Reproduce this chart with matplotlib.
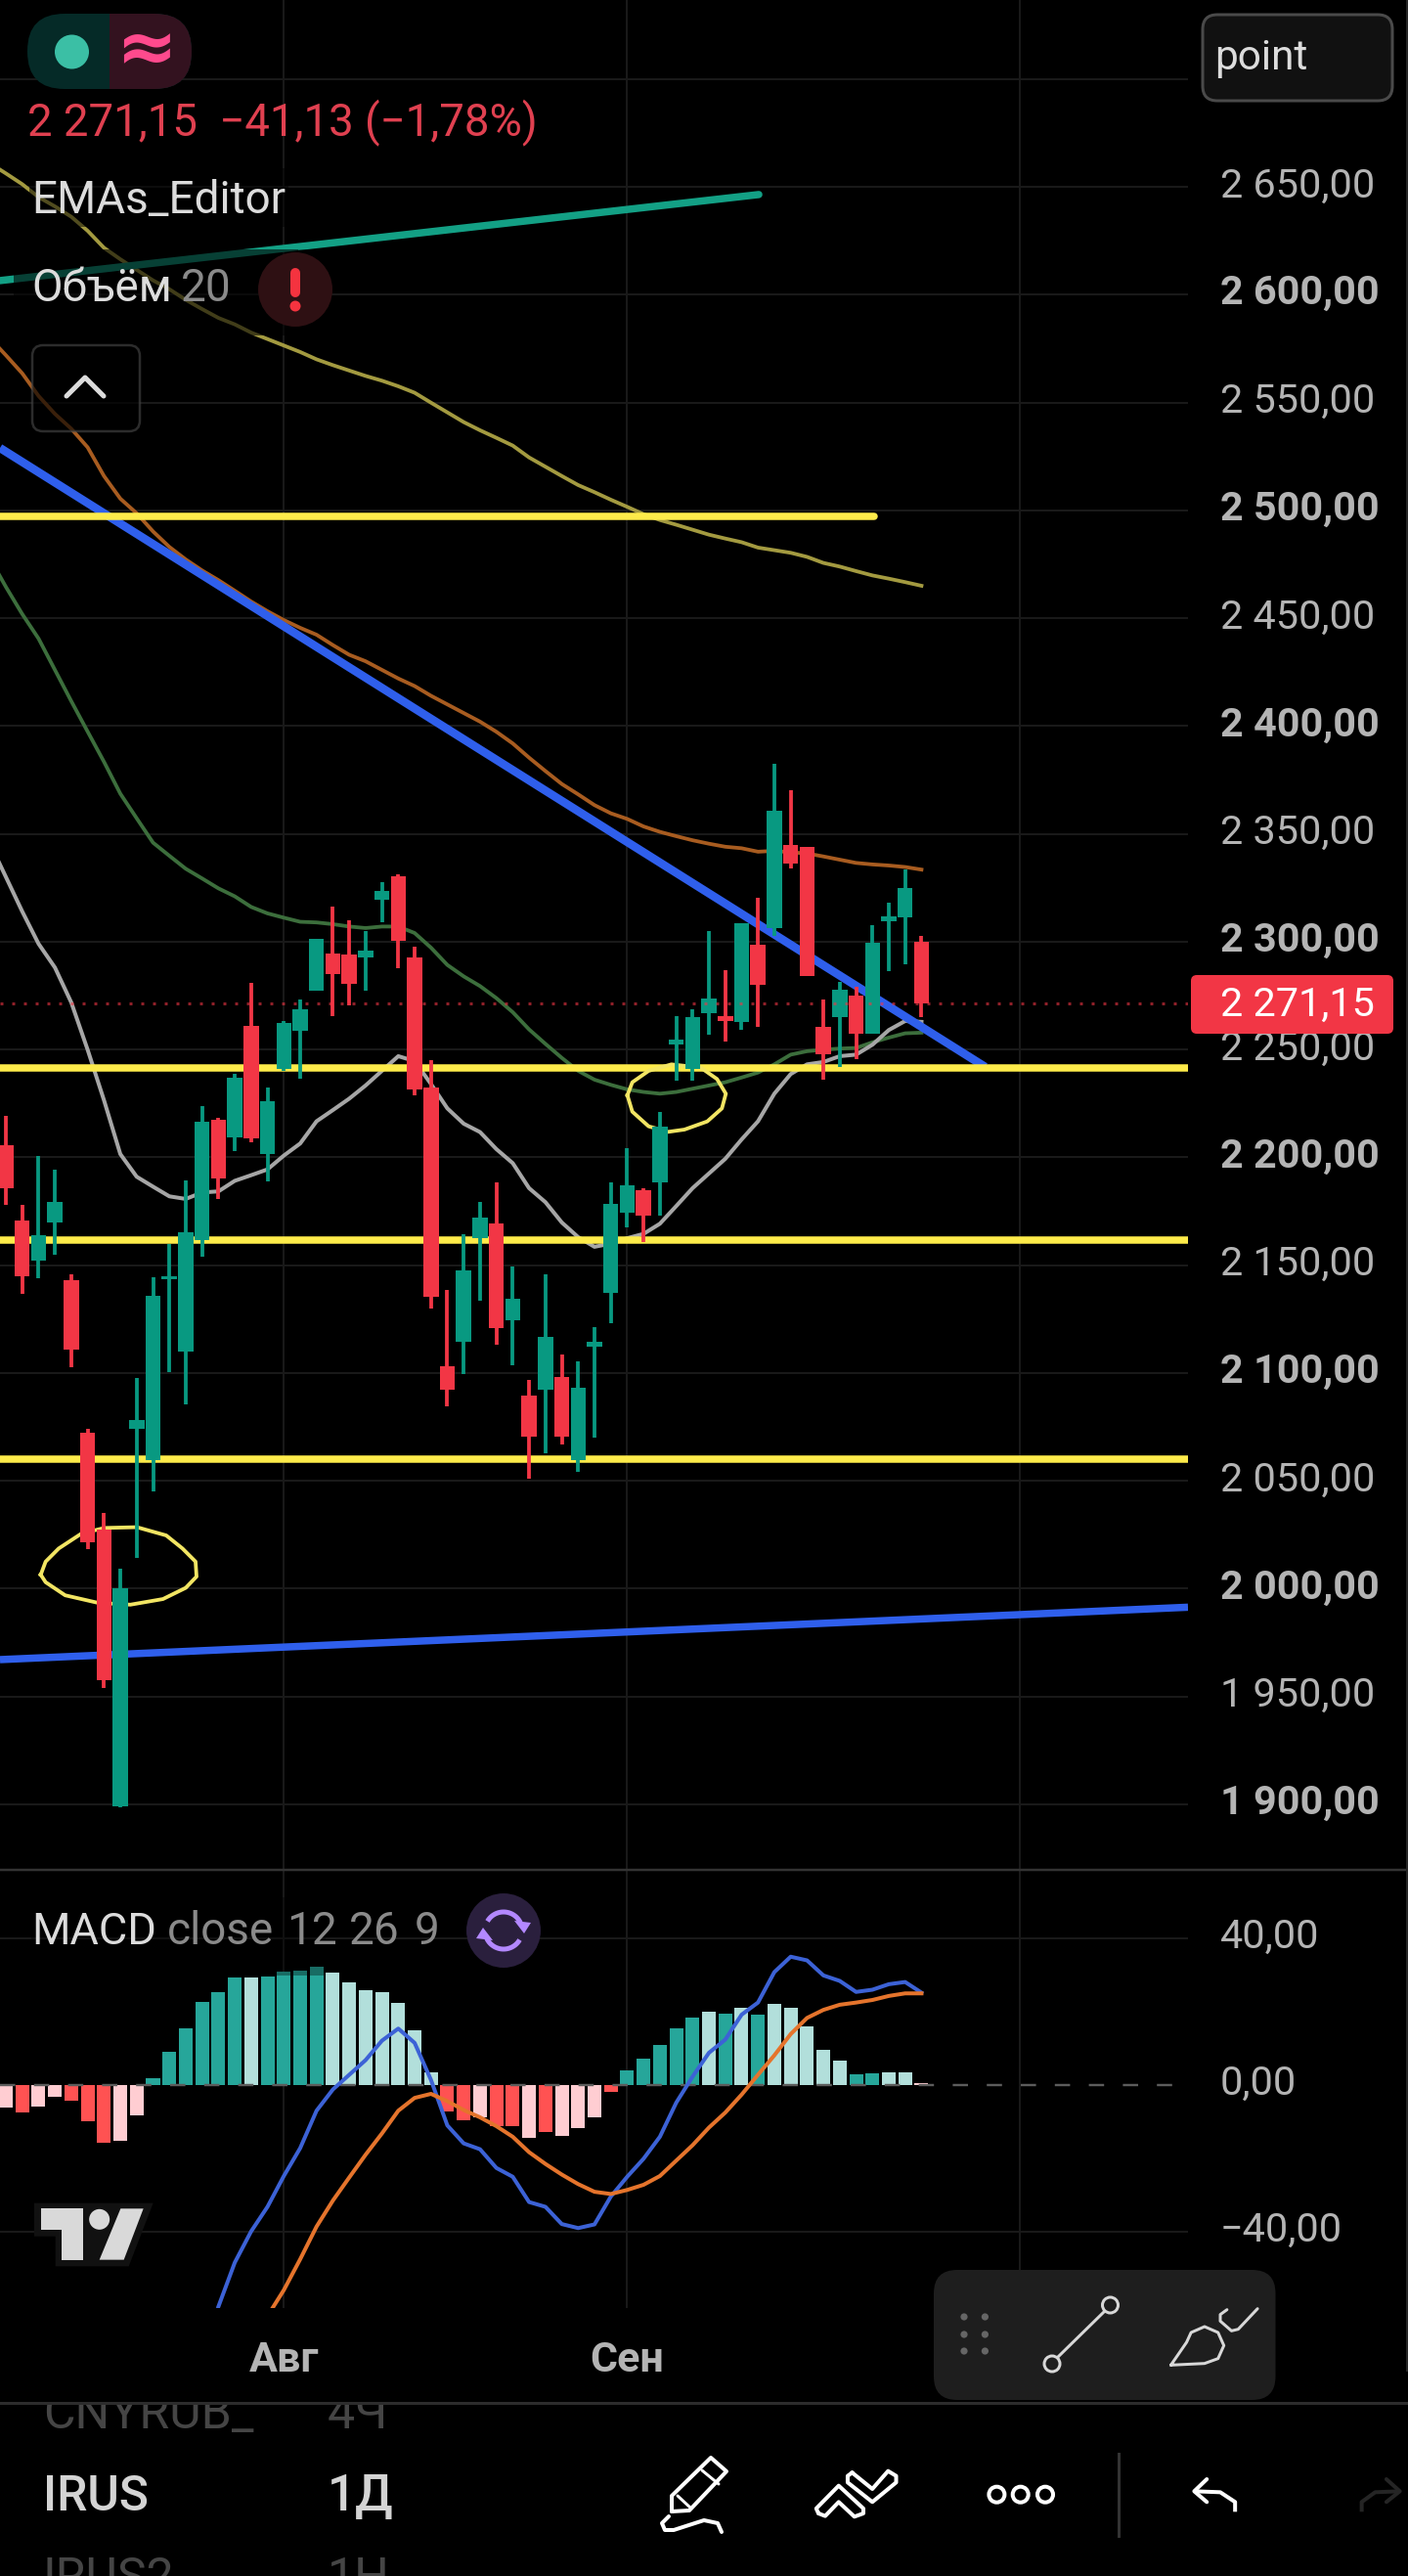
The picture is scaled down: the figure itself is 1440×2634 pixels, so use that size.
import numpy as np
import matplotlib
matplotlib.use("Agg")
import matplotlib.pyplot as plt
from matplotlib.patches import FancyBboxPatch, Circle, Rectangle, Polygon
from matplotlib.transforms import Affine2D, ScaledTranslation

plt.rcParams['font.family'] = ['Roboto', 'DejaVu Sans']

# ---------------- data ----------------
bars = list(range(57))
opens = [2205.6,2170.9,2152.2,2169.8,2143.2,2072.4,2027.3,1899.2,2074.1,2059.7,2143.5,2110.0,2161.8,2217.4,2209.4,2261.0,2201.5,2241.1,2258.7,2277.4,
         2294.5,2294.0,2292.7,2319.4,2330.3,2292.5,2232.4,2103.1,2114.4,2162.7,2169.3,2124.5,2089.5,2092.3,2098.2,2059.8,2112.2,2137.2,2174.3,2184.8,
         2188.4,2252.3,2240.8,2266.8,2265.6,2262.8,2298.6,2306.3,2344.8,2343.9,2260.5,2265.0,2275.0,2257.3,2309.5,2311.3,2299.9]
highs = [2219.2,2178.1,2200.5,2194.3,2145.8,2074.1,2035.1,2009.1,2097.9,2144.4,2160.0,2189.2,2223.8,2218.2,2238.6,2280.9,2232.2,2263.0,2273.0,2301.3,
         2316.4,2309.9,2305.0,2327.4,2331.0,2297.5,2245.1,2138.4,2164.4,2179.3,2188.2,2149.4,2096.8,2145.8,2108.6,2105.4,2121.3,2188.2,2204.3,2185.5,
         2221.2,2265.3,2268.5,2304.9,2286.6,2308.6,2320.2,2382.5,2370.0,2343.9,2273.0,2281.2,2279.0,2307.5,2317.9,2333.5,2302.5]
lows  = [2178.1,2136.6,2144.1,2154.8,2102.8,2018.3,1953.9,1898.4,2014.3,2045.2,2100.2,2085.4,2154.0,2180.8,2203.0,2207.1,2189.0,2240.1,2236.6,2277.4,
         2265.5,2270.3,2277.4,2308.9,2287.7,2228.7,2130.0,2084.5,2099.6,2133.6,2113.1,2103.6,2051.1,2062.9,2067.0,2054.3,2070.0,2123.2,2167.5,2160.7,
         2173.0,2235.6,2235.6,2257.0,2253.7,2259.0,2260.5,2302.8,2334.0,2284.1,2236.0,2242.0,2245.7,2257.3,2286.5,2289.5,2265.0]
closes= [2185.7,2144.8,2164.0,2179.3,2110.8,2021.6,1957.5,2000.4,2078.1,2135.8,2144.7,2165.3,2216.5,2190.2,2237.1,2208.8,2226.0,2262.3,2268.7,2301.3,
         2285.0,2280.4,2295.9,2323.5,2300.4,2231.5,2135.4,2092.4,2147.5,2172.0,2120.8,2134.4,2070.5,2116.7,2070.5,2093.2,2114.5,2178.4,2187.0,2173.0,
         2214.4,2254.7,2265.0,2273.6,2263.2,2308.6,2280.0,2360.7,2336.0,2284.1,2247.9,2277.7,2257.3,2299.5,2311.7,2324.9,2271.15]

ema_bars = list(range(-1, 57))
ema_grey = [2346,2330,2314,2299,2288,2271.8,2249.9,2226.5,2201.5,2191,2186.4,2181.9,2180.7,2183.7,2184.2,2189.1,2191.7,2194.4,2200.8,2206.4,2216.7,
            2221.9,2227.2,2233.3,2240.1,2246.9,2244.6,2234,2222.7,2215.6,2211.7,2203.8,2197.3,2185.7,2179.2,2169.8,2163,2158.5,2160,2162.5,2164.5,
            2169.2,2177.4,2185.7,2192.5,2199.3,2208.3,2216.7,2229.5,2238.6,2243.1,2244.2,2246.9,2247.6,2252.2,2259,2263.2,2262.8]
ema_green = [2478,2464.5,2451.9,2440.5,2426,2411.5,2397.4,2383.4,2368.6,2357.2,2345.9,2339.8,2333.8,2329.3,2324.7,2321,2316.1,2313.1,2311.1,2309.2,2308.9,
             2308.1,2307,2306.3,2307,2307,2304,2297.2,2289.2,2283.9,2279.4,2273.8,2267.3,2259.3,2252.6,2246.1,2240.1,2236,2233.6,2231.5,2230.3,
             2229.5,2230.3,2231.8,2233.3,2234.8,2237,2239.3,2243.1,2247.6,2249.2,2249.9,2250.4,2250.7,2253.3,2255.5,2257.5,2257.8]
ema_brown = [2580,2571.9,2563.5,2553,2544.7,2537.8,2529.2,2515.9,2505.4,2498.6,2490.2,2483,2477.2,2472.1,2467.6,2462.7,2457.7,2453.2,2449.1,2445.5,2442.3,
             2437.5,2433,2430,2426,2422,2418.5,2414,2410,2406,2402,2397.3,2391.9,2385.3,2379.1,2373.1,2368.3,2363.3,2359.5,2356.9,2353.4,
             2350.9,2348.9,2347,2345.4,2344,2343.3,2341.7,2342.1,2341.4,2340.9,2339.5,2338,2336.5,2335.8,2335.3,2334.6,2333.4]
ema_olive = [2661,2656.2,2651.2,2645.2,2640.9,2636.1,2629.6,2621.7,2616.4,2611.5,2606.6,2602.5,2597.6,2593.3,2589.2,2586.2,2582.4,2579.4,2576.4,2573.4,2570,
             2567.3,2564.8,2562.3,2560.1,2557.5,2554.5,2549.9,2545.4,2540.9,2537.1,2533.6,2530,2524.5,2520.2,2515.9,2511.7,2508.4,2504.9,2501.6,2498.2,
             2495.5,2493.3,2491,2488.7,2486.9,2485.2,2482.7,2481.5,2480.3,2478.4,2475.6,2473.9,2471.8,2469.8,2468.3,2466.7,2465]

level_prices = [2241.6, 2161.8, 2060.0]
short_level = 2497.2
short_level_end_bar = 53.1
last_price = 2271.15

trend_blue_down = ([-0.36, 59.9], [2528.9, 2241.9])
trend_blue_up = ([-0.36, 72.3], [1967.1, 1991.4])
trend_teal = ([-0.36, 46.05], [2606.5, 2646.4])

price_ticks = [1900,1950,2000,2050,2100,2150,2200,2250,2300,2350,2400,2450,2500,2550,2600,2650,2700]
price_labels = ['1 900,00','1 950,00','2 000,00','2 050,00','2 100,00','2 150,00','2 200,00','2 250,00','2 300,00','2 350,00',
                '2 400,00','2 450,00','2 500,00','2 550,00','2 600,00','2 650,00','']
bold_prices = {1900,2000,2100,2200,2300,2400,2500,2600}

hist = [-6.2,-7.4,-5.8,-3.1,-4.2,-9.8,-15.8,-15.1,-8.2,1.8,9.2,15.6,22.8,25.4,29.4,29.4,29.7,30.9,31.3,32.4,
        30.7,28.1,26,25.4,22.5,15,3.6,-7.1,-9.5,-8.9,-11.1,-11.1,-14.5,-12.7,-13.8,-11.8,-8.7,-1.8,4.1,7.3,
        11,15.6,18.5,20.1,19.6,21.2,19.3,22.2,21.2,16.1,9.7,6.8,3,3.3,3.6,3.6,0.6]
hist_shade = list("LSLLSSSLL" "SSSSSSLSSSS" "LLLLLLL" "SSLSSLSLL" "L" "SSSSSS" "L" "S" "L" "S" "LLLLL" "SSLL")

macd_bars = list(range(13, 57))
macd_line = [-60.4,-48.4,-39.9,-33.2,-24.8,-17.2,-7,-1.2,2.8,6.8,12.1,15.4,11.5,1.4,-11,-15.9,-17.5,-22.6,-25,-31.9,-33.2,-37.9,-39,-38,-30.4,-25,-20.1,
             -14.1,-4.8,2.3,8.8,12.4,19.2,22.5,30.8,35,34,29.9,28.4,25.4,26,27.5,28.1,25.2]
signal_bars = list(range(15, 57))
signal_line = [-69.7,-63,-55.9,-47.5,-38.6,-31.5,-25.2,-19,-13.2,-7,-3.5,-2.4,-4.4,-6.8,-8.8,-11.2,-14.1,-18.3,-21.5,-24.4,-27,-29.1,-29.7,-28.6,-27.2,-24.8,
               -20.6,-16.4,-11.6,-7.5,-2.6,2.8,8.1,13.9,18.3,20.5,21.9,22.5,23.2,24.3,25,25]
macd_ticks = [-40, 0, 40]
macd_labels = ['\u221240,00', '0,00', '40,00']
month_bars = [17, 38, 62]
month_labels = ['Авг', 'Сен', '']

UP = '#089981'; DOWN = '#f23645'; GRID = '#191919'; LABEL = '#b4b4b4'; TXT = '#dcdcdc'; DIM = '#8a8a8a'
W, H = 1440, 2634
PX = 0.72

fig = plt.figure(figsize=(W/100, H/100), dpi=100, facecolor='black')
px_tf = Affine2D().scale(1, -1).translate(0, H)

# ---------------- price pane ----------------
ax = fig.add_axes([0, (H-1912)/H, 1215/W, 1912/H], facecolor='black')
ax.set_xlim(-0.359, 72.3)
ax.set_ylim(1869.6, 2736.6)
for s in ax.spines.values():
    s.set_visible(False)
ax.set_xticks(month_bars, labels=['']*3)
ax.tick_params(axis='both', length=0)
ax.yaxis.tick_right()
ax.set_yticks(price_ticks, labels=price_labels)
ax.tick_params(axis='y', pad=33*PX, labelsize=29.8, labelcolor=LABEL)
ax.grid(True, color=GRID, lw=2*PX, zorder=0)
ax.set_axisbelow(True)
off = ScaledTranslation(0, 5/100, fig.dpi_scale_trans)
for p, t in zip(price_ticks, ax.get_yticklabels()):
    t.set_transform(t.get_transform() + off)
    if p in bold_prices:
        t.set_fontweight('bold')

ax.plot(ema_bars, ema_olive, color='#a39a40', lw=3.8*PX, zorder=2)
ax.plot(ema_bars, ema_brown, color='#a85c20', lw=3.8*PX, zorder=2)
ax.plot(ema_bars, ema_green, color='#3c6e3c', lw=3.8*PX, zorder=2)
ax.plot(ema_bars, ema_grey, color='#a6a6a6', lw=4*PX, zorder=2)

ax.plot(*trend_teal, color='#13a085', lw=7.5*PX, zorder=3, solid_capstyle='round')
ax.plot(*trend_blue_down, color='#2f5fec', lw=8.5*PX, zorder=3.1, solid_capstyle='butt')
ax.plot(*trend_blue_up, color='#2f5fec', lw=7.5*PX, zorder=3.1, solid_capstyle='butt')
for lv in level_prices:
    ax.axhline(lv, color='#fdeb4a', lw=7.5*PX, zorder=3.2)
ax.plot([-0.36, short_level_end_bar], [short_level]*2, color='#fdeb4a', lw=7.5*PX, zorder=3.2, solid_capstyle='round')

# hand-drawn ellipses (annotation shapes, in reference crop units)
e1 = np.array([(125,915),(140,880),(180,845),(250,805),(320,790),(420,788),(510,810),(560,845),(600,880),(603,920),(570,950),
               (500,980),(400,995),(300,990),(200,970),(140,935),(125,915)], float)
e2 = np.array([(425,1080),(440,1040),(490,1005),(560,985),(650,995),(700,1030),(727,1075),(715,1120),(670,1160),(600,1185),
               (550,1192),(490,1175),(440,1130),(425,1080)], float)
e1 = e1/[3, 2.613] + [0, 1260]
e2 = e2/3 + [500, 760]
for e in (e1, e2):
    ax.plot(e[:,0], e[:,1], color='#f2e563', lw=3.8*PX, transform=px_tf, zorder=3.3, clip_on=False)

for i in bars:
    up = closes[i] >= opens[i]
    c = UP if up else DOWN
    ax.vlines(i, lows[i], highs[i], color=c, lw=3.8*PX, zorder=4)
    ax.bar(i, abs(closes[i]-opens[i]), bottom=min(opens[i], closes[i]), width=15.5/16.72, color=c, lw=0, zorder=4.1)
ax.axhline(last_price, color=DOWN, alpha=0.6, lw=3*PX, linestyle=(0, (1, 3)), zorder=5)

# ---------------- MACD pane ----------------
ax2 = fig.add_axes([0, (H-2360)/H, 1215/W, 448/H], facecolor='black')
ax2.set_xlim(-0.359, 72.3)
ax2.set_ylim(-60.8, 58.67)
for s in ax2.spines.values():
    s.set_visible(False)
ax2.set_xticks(month_bars, labels=month_labels)
ax2.yaxis.tick_right()
ax2.set_yticks(macd_ticks, labels=macd_labels)
ax2.tick_params(axis='both', length=0)
ax2.tick_params(axis='y', pad=33*PX, labelsize=29.8, labelcolor=LABEL)
ax2.tick_params(axis='x', pad=33*PX, labelsize=31, labelcolor=LABEL)
for t in ax2.get_xticklabels():
    t.set_fontweight('bold')
ax2.grid(True, axis='x', color=GRID, lw=2*PX)
ax2.set_axisbelow(True)
for v in (-40, 40):
    ax2.axhline(v, color=GRID, lw=2*PX, zorder=0.5)
off2 = ScaledTranslation(0, 6/100, fig.dpi_scale_trans)
for t in ax2.get_yticklabels():
    t.set_transform(t.get_transform() + off2)
shade = {('S', True): '#26a69a', ('L', True): '#b2dfdb', ('S', False): '#ff5252', ('L', False): '#ffcdd2'}
ax2.bar(bars, hist, width=14/16.72, lw=0, color=[shade[(s, h >= 0)] for s, h in zip(hist_shade, hist)], zorder=2)
ax2.axhline(0, color='#5c5c5c', lw=2.4*PX, linestyle=(0, (6.5, 8)), zorder=2.5)
ax2.plot(macd_bars, macd_line, color='#3c62d6', lw=4*PX, zorder=3)
ax2.plot(signal_bars, signal_line, color='#e5742c', lw=4*PX, zorder=3.1)

# ---------------- interface layer ----------------
ui = fig.add_axes([0, 0, 1, 1], zorder=10)
ui.set_xlim(0, W); ui.set_ylim(H, 0); ui.axis('off'); ui.patch.set_alpha(0)

def rbox(x0, y0, x1, y1, r, fc, ec='none', lw=0, alpha=None, z=1):
    ui.add_patch(FancyBboxPatch((x0, y0), x1-x0, y1-y0, boxstyle=f'round,pad=0,rounding_size={r}',
                                fc=fc, ec=ec, lw=lw*PX, alpha=alpha, zorder=z))

def path(pts, c, lw, z=3, cap='round', fill=False):
    pts = np.array(pts, float)
    if fill:
        ui.add_patch(Polygon(pts, closed=True, fc=c, ec='none', zorder=z))
    else:
        ui.plot(pts[:,0], pts[:,1], color=c, lw=lw*PX, zorder=z, solid_capstyle=cap, solid_joinstyle='round')

def z8(pts):
    return [(720+x/2.178, 2250+y/3) for x, y in pts]

# separators
ui.plot([0, W], [1912, 1912], color='#333333', lw=2.5*PX, zorder=1)
ui.plot([1439, 1439], [0, 2457], color='#262626', lw=2*PX, zorder=1)

# scrims behind legend rows
ui.add_patch(Rectangle((30, 172), 265, 60, fc='black', alpha=0.5, ec='none', zorder=0.5))
ui.add_patch(Rectangle((14, 255), 291, 88, fc='black', alpha=0.6, ec='none', zorder=0.5))
ui.add_patch(Rectangle((305, 255), 50, 30, fc='black', alpha=0.3, ec='none', zorder=0.5))
ui.add_patch(Rectangle((32, 1940), 301, 80, fc='black', alpha=0.35, ec='none', zorder=0.5))

# status pill
rbox(28, 14, 196, 91, 38, '#052a27', z=1)
clip = Rectangle((112, 0), 200, 200, transform=ui.transData)
p = FancyBboxPatch((28, 14), 168, 77, boxstyle='round,pad=0,rounding_size=38', fc='#33121f', ec='none', zorder=1.1)
ui.add_patch(p); p.set_clip_path(clip)
ui.add_patch(Circle((73.5, 53), 17.5, fc='#3bbfa5', ec='none', zorder=2))
ui.text(150, 53, '≈', color='#ff4a8d', fontsize=54, fontweight='bold', ha='center', va='center',
        family=['DejaVu Sans'], zorder=2)

ui.text(28.5, 138, '2\u00a0271,15  \u221241,13 (\u22121,78%)', color='#e04050', fontsize=32.8, va='baseline')
ui.text(32, 218, 'EMAs_Editor', color=TXT, fontsize=33, va='baseline')
ui.text(32, 308, 'Объём', color=TXT, fontsize=33, va='baseline')
ui.text(185, 308, '20', color=DIM, fontsize=33, va='baseline')
ui.add_patch(Circle((302, 296), 38, fc='#2e1013', ec='none', zorder=2))
path([(302, 279), (302, 299)], '#f5333f', 10, z=3)
ui.add_patch(Circle((302, 313), 5.5, fc='#f5333f', ec='none', zorder=3))
rbox(33, 353, 143, 441, 11, 'black', ec='#454545', lw=2.5, alpha=0.65, z=2)
path([(68, 405), (87, 386), (106, 405)], TXT, 5)

rbox(1230, 15, 1424, 103, 15, '#111111', ec='#4a4a4a', lw=3, z=2)
ui.text(1242, 71, 'point', color=TXT, fontsize=30.5, va='baseline', zorder=3)

# last price tag
rbox(1218, 997, 1425, 1057, 6, DOWN, z=2)
ui.text(1248, 1027, '2\u00a0271,15', color='white', fontsize=29.8, va='center', zorder=3)

# MACD legend
ui.text(32, 1988, 'MACD', color=TXT, fontsize=32.5, va='baseline')
for sx, word in ((171, 'close'), (293, '12'), (357, '26'), (424, '9')):
    ui.text(sx, 1988, word, color=DIM, fontsize=33, va='baseline')
ui.add_patch(Circle((515, 1974), 38, fc='#2a1f3d', ec='none', zorder=2))
for a0, a1 in ((25, 150), (205, 330)):
    th = np.radians(np.linspace(a0, a1, 30))
    path(np.c_[515 + 19*np.cos(th), 1974 - 19*np.sin(th)], '#b388ff', 5, z=3, cap='butt')
path([(526, 1964), (543, 1966), (536, 1977)], '#b388ff', 0, z=3, fill=True)
path([(504, 1984), (487, 1982), (494, 1971)], '#b388ff', 0, z=3, fill=True)

# logo
lg = lambda pts: [(x/3, 1920+y/3) for x, y in pts]
path(lg([(105,998),(470,998),(395,1192),(170,1192),(170,1100),(105,1100)]), '#111111', 0, z=2, fill=True)
path(lg([(125,1015),(255,1015),(255,1172),(190,1172),(190,1080),(125,1080)]), '#d9d9d9', 0, z=3, fill=True)
path(lg([(370,1015),(440,1015),(380,1172),(305,1172)]), '#d9d9d9', 0, z=3, fill=True)
ui.add_patch(Circle((305/3, 1920+1048/3), 10.5, fc='#d9d9d9', ec='none', zorder=3))

# bottom list
ui.text(44, 2483, 'CNYRUB_', color='#454545', fontsize=36, va='baseline', zorder=1)
ui.text(335, 2483, '4Ч', color='#454545', fontsize=36, va='baseline', zorder=1)
ui.add_patch(Rectangle((0, 2425), W, 34, fc='black', ec='none', zorder=1.5))
ui.plot([0, W], [2457, 2457], color='#2c2c2c', lw=3*PX, zorder=1.6)
ui.text(44, 2567, 'IRUS', color='#d4d4d4', fontsize=36, fontweight='medium', va='baseline', zorder=1)
ui.text(335, 2567, '1Д', color='#d4d4d4', fontsize=37, fontweight='medium', va='baseline', zorder=1)
ui.text(44, 2651, 'IRUS2', color='#454545', fontsize=36, va='baseline', zorder=1, clip_on=True)
ui.text(335, 2651, '1Н', color='#454545', fontsize=36, va='baseline', zorder=1, clip_on=True)

# floating toolbar
rbox(955, 2321, 1304.5, 2454, 24, '#1e1e1e', z=2)
for dx in (986, 1007.4):
    for dy in (2369, 2387, 2404):
        ui.add_patch(Circle((dx, dy), 3.6, fc='#666666', ec='none', zorder=3))
path([(1081, 2411), (1130, 2363)], '#d8d8d8', 3)
for cx, cy in ((1076, 2417), (1135.5, 2357)):
    ui.add_patch(Circle((cx, cy), 8, fc='#1e1e1e', ec='#d8d8d8', lw=3*PX, zorder=3.1))
path(z8([(1040,505),(1075,435),(1085,405),(1115,387),(1145,405),(1158,445),(1145,485),(1115,500),(1040,505)]), '#d8d8d8', 3)
path(z8([(1165,335),(1150,350),(1150,370),(1175,400),(1190,395),(1233,332)]), '#d8d8d8', 3)

# bottom tools
WHITE = 'white'
path([(687, 2568), (687, 2552), (727, 2513), (743, 2527), (705, 2567), (687, 2568)], WHITE, 4)
path([(693, 2552), (707, 2565)], WHITE, 3)
path([(718, 2526), (735, 2540)], WHITE, 3)
path([(738, 2589), (734, 2580), (720, 2577), (689, 2587), (680, 2587), (677, 2580), (684, 2573)], WHITE, 4)
path(z8([(255,960),(250,945),(300,875),(355,945),(355,960),(335,970),(300,925),(270,968),(255,960)]), WHITE, 4)
path(z8([(330,835),(375,885),(410,830),(428,845),(428,865),(375,925),(320,865),(320,845),(330,835)]), WHITE, 4)
for cx in (1019.4, 1043.7, 1069):
    ui.add_patch(Circle((cx, 2550.7), 8, fc='black', ec=WHITE, lw=4*PX, zorder=3))
ui.plot([1144, 1144], [2509, 2593], color='#333333', lw=3*PX, zorder=3)
path(z8([(1120,855),(1092,892),(1120,925)]), WHITE, 4)
path(z8([(1092,892),(1150,895),(1183,925),(1183,955)]), WHITE, 4, cap='butt')
path(z8([(1520,855),(1550,892),(1520,925)]), '#252525', 4)
path(z8([(1550,892),(1495,895),(1465,925),(1465,955)]), '#252525', 4, cap='butt')

fig.savefig('out.png', dpi=100, facecolor='black')
